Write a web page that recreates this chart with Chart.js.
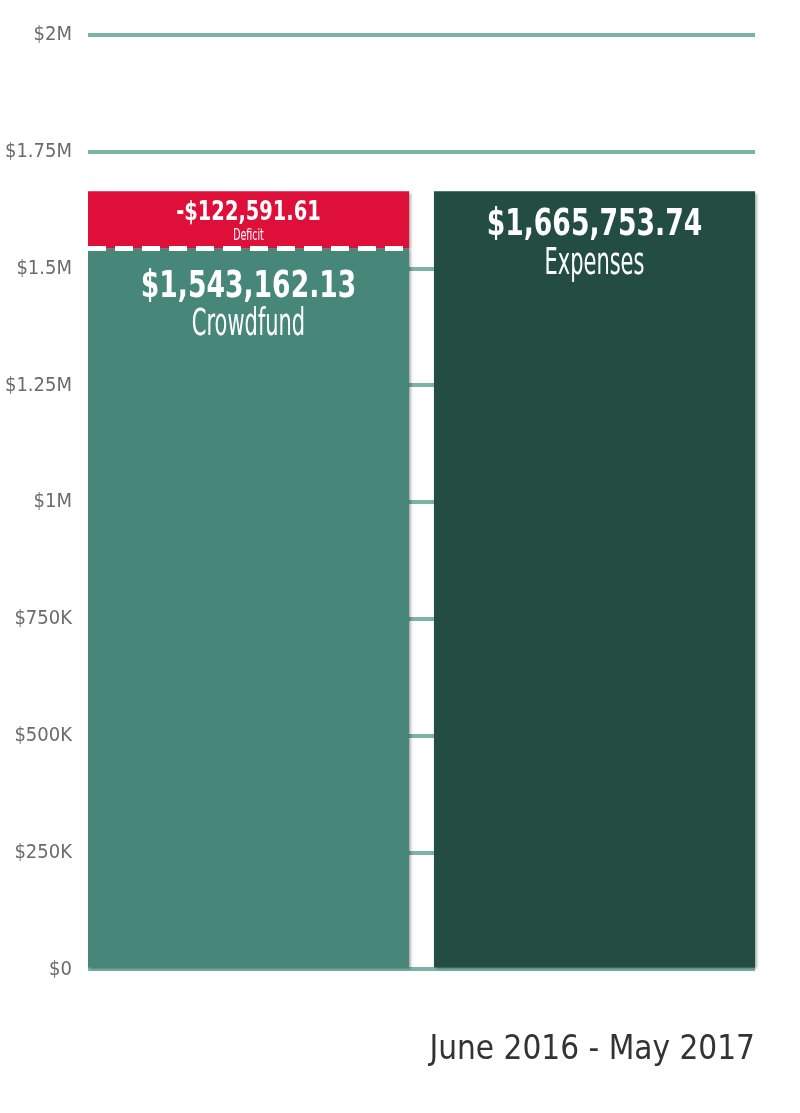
<!DOCTYPE html>
<html lang="en">
<head>
  <meta charset="UTF-8" />
  <title>Crowdfund vs Expenses</title>
  <script src="https://cdn.jsdelivr.net/npm/chart.js"></script>
  <style>
    body {
      margin: 0;
      background: #fff;
    }
    .wrap {
      width: 800px;
      height: 1113px;
      position: relative;
    }
  </style>
</head>
<body>
  <div class="wrap"><canvas id="fundChart"></canvas></div>

  <script>
    // values
    const seriesNames = ['Crowdfund', 'Deficit', 'Expenses'];
    const crowdfund = [1543162.13];
    const deficit = [122591.61];
    const expenses = [1665753.74];
    const barIndex = [0, 0, 1];          // which column each series sits in
    const yTicks = [0, 250000, 500000, 750000, 1000000, 1250000, 1500000, 1750000, 2000000];
    const period = 'June 2016 - May 2017';

    const FONT = "'Liberation Sans Narrow', 'DejaVu Sans Condensed', sans-serif";
    const colors = ['#47877a', '#de103a', '#234d42'];
    const BAR_PCT = 0.928;

    function money(v) {
      return '$' + v.toLocaleString('en-US', { minimumFractionDigits: 2, maximumFractionDigits: 2 });
    }

    function tickLabel(v) {
      if (v === 0) return '$0';
      if (v < 1000000) return '$' + (v / 1000) + 'K';
      return '$' + (v / 1000000) + 'M';
    }

    const seriesData = [crowdfund, deficit, expenses];
    const datasets = seriesNames.map((name, i) => ({
      label: name,
      data: seriesData[i].map(v => ({ x: barIndex[i], y: v })),
      backgroundColor: colors[i],
      barPercentage: BAR_PCT,
      categoryPercentage: 1,
      clip: false
    }));

    // soft shadow on the right/bottom of each bar
    const barShadow = {
      id: 'barShadow',
      beforeDatasetDraw(chart) {
        const ctx = chart.ctx;
        ctx.save();
        ctx.shadowColor = 'rgba(0,0,0,0.4)';
        ctx.shadowBlur = 3;
        ctx.shadowOffsetX = 2;
        ctx.shadowOffsetY = 2;
      },
      afterDatasetDraw(chart) {
        chart.ctx.restore();
      }
    };

    // condensed text: squeeze horizontally to mimic the narrow face
    function squeezed(ctx, text, x, y, font, sx) {
      ctx.save();
      ctx.font = font;
      ctx.translate(x, y);
      ctx.scale(sx, 1);
      ctx.fillText(text, 0, 0);
      ctx.restore();
    }

    // dashed split line + the value labels inside the bars
    const barLabels = {
      id: 'barLabels',
      afterDatasetsDraw(chart) {
        const ctx = chart.ctx;
        const cf = chart.getDatasetMeta(0).data[0];
        const df = chart.getDatasetMeta(1).data[0];
        const ex = chart.getDatasetMeta(2).data[0];

        ctx.save();
        ctx.strokeStyle = '#fff';
        ctx.lineWidth = 5;
        ctx.setLineDash([18, 9]);
        ctx.beginPath();
        ctx.moveTo(cf.x - cf.width / 2, cf.y);
        ctx.lineTo(cf.x + cf.width / 2, cf.y);
        ctx.stroke();
        ctx.setLineDash([]);

        ctx.fillStyle = '#fff';
        ctx.textAlign = 'center';
        ctx.textBaseline = 'middle';

        squeezed(ctx, '-' + money(deficit[0]), df.x, df.y + 22, 'bold 27px ' + FONT, 0.8);
        squeezed(ctx, seriesNames[1], df.x, df.y + 45, '15px ' + FONT, 0.7);

        squeezed(ctx, money(crowdfund[0]), cf.x, cf.y + 39, 'bold 37px ' + FONT, 0.8);
        squeezed(ctx, money(expenses[0]), ex.x, ex.y + 34, 'bold 37px ' + FONT, 0.8);
        squeezed(ctx, seriesNames[0], cf.x, cf.y + 77, '37px ' + FONT, 0.63);
        squeezed(ctx, seriesNames[2], ex.x, ex.y + 73, '37px ' + FONT, 0.63);
        ctx.restore();
      }
    };

    new Chart(document.getElementById('fundChart'), {
      type: 'bar',
      data: { datasets: datasets },
      options: {
        responsive: true,
        maintainAspectRatio: false,
        animation: false,
        layout: { padding: { top: 35, right: 45, bottom: 43, left: 0 } },
        plugins: {
          legend: { display: false },
          tooltip: { enabled: false }
        },
        scales: {
          x: {
            type: 'linear',
            stacked: true,
            offset: false,
            min: -BAR_PCT / 2,
            max: 1 + BAR_PCT / 2,
            afterBuildTicks(scale) {
              scale.ticks = [0, 1].map(v => ({ value: v }));
            },
            ticks: { display: false },
            grid: { display: false, offset: false },
            border: { display: false },
            title: {
              display: true,
              text: period,
              align: 'end',
              color: '#333',
              font: { family: FONT, size: 33 },
              padding: { top: 53, bottom: 0 }
            }
          },
          y: {
            stacked: true,
            min: 0,
            max: 2000000,
            afterBuildTicks(scale) {
              scale.ticks = yTicks.map(v => ({ value: v }));
            },
            afterFit(scale) {
              scale.width = 88;
            },
            ticks: {
              padding: 16,
              color: '#6b6b6b',
              font: { family: FONT, size: 20 },
              callback: v => tickLabel(v)
            },
            grid: {
              color: '#7ab4a6',
              lineWidth: 4,
              drawTicks: false
            },
            border: { display: false }
          }
        }
      },
      plugins: [barShadow, barLabels]
    });
  </script>
</body>
</html>
